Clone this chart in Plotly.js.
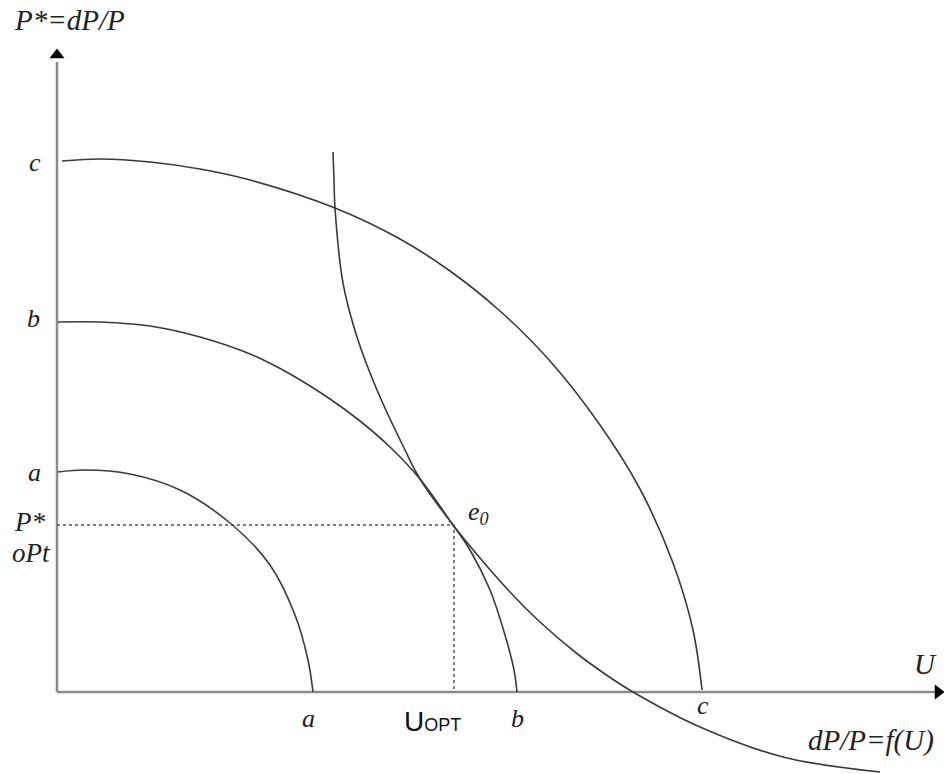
<!DOCTYPE html>
<html>
<head>
<meta charset="utf-8">
<script src="https://cdn.plot.ly/plotly-3.0.1.min.js"></script>
<style>html,body{margin:0;padding:0;background:#fff}#chart{width:944px;height:774px}</style>
</head>
<body>
<div id="chart"></div>
<script>
// Curve a (innermost welfare curve)
const curveA_x = [0.01, 0.28, 0.73, 1.23, 1.73, 2.13, 2.38, 2.51, 2.56];
const curveA_y = [2.20, 2.22, 2.18, 2.02, 1.69, 1.27, 0.77, 0.32, 0.00];
// Curve b (tangent at e0)
const curveB_x = [0.01, 0.43, 0.93, 1.43, 1.93, 2.33, 2.73, 3.03, 3.33, 3.63, 3.96, 4.13, 4.33, 4.48, 4.57, 4.60];
const curveB_y = [3.70, 3.70, 3.66, 3.55, 3.38, 3.18, 2.93, 2.71, 2.45, 2.13, 1.67, 1.42, 1.02, 0.57, 0.22, 0.00];
// Curve c (outer)
const curveC_x = [0.05, 0.43, 0.93, 1.43, 1.93, 2.78, 3.43, 3.93, 4.43, 4.93, 5.43, 5.83, 6.16, 6.36, 6.45];
const curveC_y = [5.31, 5.33, 5.30, 5.23, 5.12, 4.84, 4.53, 4.21, 3.81, 3.31, 2.67, 2.03, 1.29, 0.62, 0.02];
// Curve dP/P = f(U)
const curveF_x = [2.76, 2.77, 2.78, 2.86, 3.00, 3.20, 3.48, 3.63, 3.96, 4.23, 4.53, 4.83, 5.18, 5.48, 5.76, 6.43, 7.26, 8.23];
const curveF_y = [5.40, 5.12, 4.84, 4.09, 3.55, 3.02, 2.42, 2.13, 1.67, 1.34, 1.00, 0.70, 0.40, 0.18, 0.00, -0.35, -0.65, -0.80];
// Equilibrium point e0
const e0 = {x: 3.97, y: 1.67};
// Axes extents
const xAxisEnd = 8.78, xArrow = 8.81;
const yAxisEnd = 6.30, yArrow = 6.37;

// Labels
const leftLabels = ['<i>c</i>', '<i>b</i>', '<i>a</i>', '<i>P*</i>', '<i>oPt</i>'];
const leftLabelX = [-0.22, -0.24, -0.23, -0.28, -0.26];
const leftLabelY = [5.30, 3.74, 2.20, 1.70, 1.39];
const bottomLabels = ['<i>a</i>', '<i>b</i>', '<i>c</i>'];
const bottomLabelX = [2.51, 4.60, 6.46];
const bottomLabelY = [-0.26, -0.26, -0.13];

const curveStyle = {color: '#3a3a3a', width: 1.6, shape: 'spline', smoothing: 1};
const axisStyle = {color: '#8c8c8c', width: 2.5};

const traces = [
  {x: [0, 0], y: [0, yAxisEnd], mode: 'lines', line: axisStyle},
  {x: [0, xAxisEnd], y: [0, 0], mode: 'lines', line: axisStyle},
  {x: [0], y: [yArrow], mode: 'markers', marker: {symbol: 'triangle-up', size: 13, color: '#000'}},
  {x: [xArrow], y: [0], mode: 'markers', marker: {symbol: 'triangle-right', size: 13, color: '#000'}},
  {x: [0, e0.x, e0.x], y: [e0.y, e0.y, 0], mode: 'lines', line: {color: '#555', width: 1.5, dash: 'dot'}},
  {x: curveA_x, y: curveA_y, mode: 'lines', line: curveStyle},
  {x: curveB_x, y: curveB_y, mode: 'lines', line: curveStyle},
  {x: curveC_x, y: curveC_y, mode: 'lines', line: curveStyle},
  {x: curveF_x, y: curveF_y, mode: 'lines', line: curveStyle}
];

const serif = {family: 'Liberation Serif, Times New Roman, serif', size: 26, color: '#222'};
const serifBig = {family: 'Liberation Serif, Times New Roman, serif', size: 29, color: '#222'};
const annotations = [];
leftLabels.forEach((t, i) => annotations.push({x: leftLabelX[i], y: leftLabelY[i], text: t, showarrow: false,
  font: i >= 3 ? {family: serif.family, size: 27, color: '#222'} : serif}));
bottomLabels.forEach((t, i) => annotations.push({x: bottomLabelX[i], y: bottomLabelY[i], text: t, showarrow: false, font: serif}));
annotations.push({x: 0.12, y: 6.72, text: '<i>P*=dP/P</i>', showarrow: false, font: serifBig});
annotations.push({x: 8.68, y: 0.28, text: '<i>U</i>', showarrow: false, font: serifBig});
annotations.push({x: 8.14, y: -0.48, text: '<i>dP/P=f(U)</i>', showarrow: false, font: serifBig});
annotations.push({x: 4.21, y: 1.79, text: '<i>e<sub>0</sub></i>', showarrow: false, font: serif});
annotations.push({x: 3.75, y: -0.29, text: 'U<span style="font-size:18px">OPT</span>', showarrow: false,
  font: {family: 'Liberation Sans, Arial, sans-serif', size: 28, color: '#111'}});

const layout = {
  width: 944, height: 774,
  margin: {l: 0, r: 0, t: 0, b: 0},
  paper_bgcolor: '#fff', plot_bgcolor: '#fff',
  showlegend: false,
  xaxis: {range: [-0.57, 8.87], visible: false, fixedrange: true},
  yaxis: {range: [-0.82, 6.92], visible: false, fixedrange: true},
  annotations: annotations
};
Plotly.newPlot('chart', traces, layout, {staticPlot: true});
</script>
</body>
</html>
